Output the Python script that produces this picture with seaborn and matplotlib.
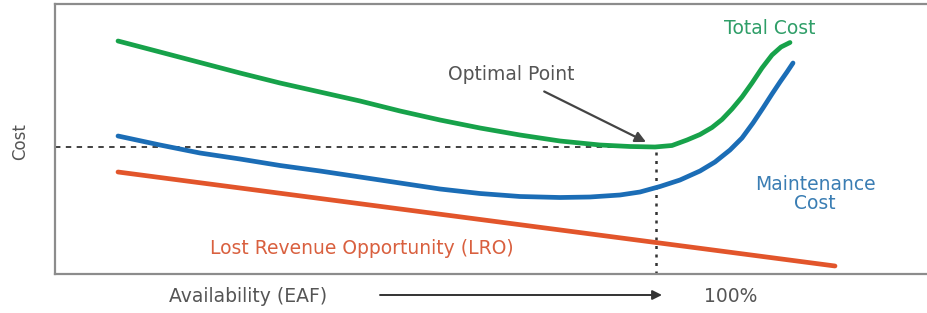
import seaborn as sns
import matplotlib.pyplot as plt

# availability positions (pixel-like units) and cost values
total_x = [118, 160, 200, 240, 280, 320, 360, 400, 440, 480, 520, 560, 600, 630, 655,
           672, 687, 700, 712, 722, 732, 742, 752, 762, 772, 781, 790]
total_py = [41, 52, 62.5, 73, 83, 92, 101, 111, 120, 128, 135, 141, 145, 146.5, 147,
            145.5, 140, 134.5, 127.5, 119.5, 109, 97, 83, 68, 55, 47, 42.5]

maint_x = [118, 160, 200, 240, 280, 320, 360, 400, 440, 480, 520, 560, 590, 620, 640,
           660, 680, 700, 715, 730, 742, 753, 763, 772, 780, 787, 793]
maint_py = [136, 145, 153, 159, 165.5, 171, 177, 183, 189, 193.5, 196.5, 197.5, 197, 195, 192,
            186.5, 180, 171, 162, 150, 138, 123, 108, 94, 82, 72, 63]

lro_x = [118, 835]
lro_py = [172, 266]

optimal_x = 656
optimal_py = 147

baseline = 274  # cost = baseline - pixel row
total_cost = [baseline - v for v in total_py]
maint_cost = [baseline - v for v in maint_py]
lro_cost = [baseline - v for v in lro_py]
optimal_cost = baseline - optimal_py

sns.set_style("white")
plt.rcParams['font.family'] = ['DejaVu Sans']

fig = plt.figure(figsize=(9.28, 3.13), dpi=100)
ax = fig.add_axes([55 / 928, 39 / 313, 880 / 928, 270 / 313])

green = "#17a24a"
blue = "#1b6db6"
red = "#e2552b"

for xs, ys, col in [(total_x, total_cost, green), (maint_x, maint_cost, blue), (lro_x, lro_cost, red)]:
    sns.lineplot(x=xs, y=ys, ax=ax, color=col, linewidth=3.4, sort=False,
                 solid_capstyle="round", solid_joinstyle="round")

ax.plot([55, optimal_x], [optimal_cost, optimal_cost], color="#333333", lw=1.3,
        linestyle=(0, (3, 3)), zorder=1)
ax.plot([optimal_x, optimal_x], [0, optimal_cost], color="#333333", lw=1.8,
        linestyle=(0, (1.2, 2.2)), zorder=1)

ax.set_xlim(55, 935)
ax.set_ylim(0, 270)
ax.set_xticks([])
ax.set_yticks([])
ax.set_xlabel("")
ax.set_ylabel("")
for side in ["left", "top", "bottom"]:
    ax.spines[side].set_color("#8c8c8c")
    ax.spines[side].set_linewidth(1.6)
ax.spines["right"].set_visible(False)

fs = 13.5
ax.annotate("Optimal Point", xy=(646, 132), xytext=(511, 199),
            ha="center", va="center", fontsize=fs, color="#555555",
            arrowprops=dict(arrowstyle="-|>", color="#444444", lw=1.6,
                            mutation_scale=16, shrinkA=6, shrinkB=0))
ax.text(770, 246, "Total Cost", ha="center", va="center", fontsize=fs, color="#2f9e68")
ax.text(815, 80, "Maintenance\nCost", ha="center", va="center", fontsize=fs,
        color="#3a7db3", linespacing=1.0)
ax.text(362, 26, "Lost Revenue Opportunity (LRO)", ha="center", va="center",
        fontsize=fs, color="#d9603f")

fig.text(20 / 928, 1 - 142 / 313, "Cost", rotation=90, ha="center", va="center",
         fontsize=12, color="#555555")
fig.text(248 / 928, 1 - 297 / 313, "Availability (EAF)", ha="center", va="center",
         fontsize=fs, color="#555555")
fig.text(731 / 928, 1 - 297 / 313, "100%", ha="center", va="center",
         fontsize=fs, color="#555555")
ax.annotate("", xy=(662 / 928, 1 - 295 / 313), xytext=(380 / 928, 1 - 295 / 313),
            xycoords="figure fraction", textcoords="figure fraction",
            arrowprops=dict(arrowstyle="-|>", color="#333333", lw=1.4,
                            mutation_scale=14, shrinkA=0, shrinkB=0))

fig.savefig("out.png", dpi=100)
